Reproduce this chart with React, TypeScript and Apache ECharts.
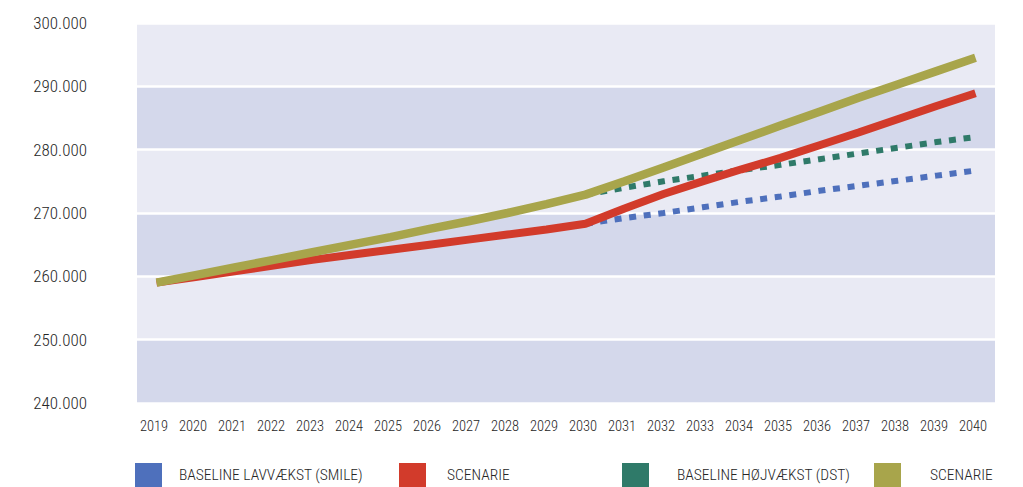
import React, { useEffect, useRef } from "react";
import * as echarts from "echarts";

const years = ["2019","2020","2021","2022","2023","2024","2025","2026","2027","2028","2029","2030","2031","2032","2033","2034","2035","2036","2037","2038","2039","2040"];

const yTicks = [240000, 250000, 260000, 270000, 280000, 290000, 300000];

// values in thousands
const baselineLav: (number | null)[] = [null,null,null,null,null,null,null,null,null,null,null,268.3,269.2,270.0,270.9,271.8,272.6,273.5,274.3,275.1,275.9,276.7];
const scenarieLav: (number | null)[] = [259.0,259.9,260.8,261.7,262.6,263.4,264.2,265.0,265.8,266.6,267.4,268.3,270.7,273.0,275.0,276.9,278.7,280.7,282.7,284.8,286.9,288.9];
const baselineHoj: (number | null)[] = [null,null,null,null,null,null,null,null,null,null,null,272.9,274.0,275.0,275.9,276.8,277.6,278.5,279.4,280.3,281.2,282.0];
const scenarieHoj: (number | null)[] = [259.0,260.2,261.4,262.6,263.8,265.0,266.2,267.5,268.7,270.0,271.4,272.9,275.0,277.2,279.4,281.6,283.8,286.0,288.2,290.3,292.4,294.5];

const names = ["BASELINE LAVVÆKST (SMILE)", "SCENARIE", "BASELINE HØJVÆKST (DST)", "SCENARIE"];
const seriesIds = ["lav-base", "lav-scen", "hoj-base", "hoj-scen"];
const colors = ["#4e70bc", "#d23b2b", "#2f7a69", "#a8a54b"];

const toAbs = (arr: (number | null)[]) => arr.map((v) => (v == null ? null : Math.round(v * 1000)));

const FONT = "'Roboto Condensed', 'Liberation Sans', sans-serif";
const WEIGHT = 300;
const TEXT = "#262626";

export default function App() {
  const ref = useRef<HTMLDivElement>(null);
  useEffect(() => {
    if (!ref.current) return;
    const chart = echarts.init(ref.current, undefined, { renderer: "svg" });
    const uniq = names.map((n, i) => `${n}#${i}`);
    const legendLefts = [130, 394, 617, 869];
    const legendPads = [12, 16, 23, 24];
    chart.setOption({
      animation: false,
      backgroundColor: "#ffffff",
      grid: { left: 137, right: 28, top: 23, bottom: 84, containLabel: false },
      legend: uniq.map((u, i) => ({
        data: [u],
        left: legendLefts[i],
        top: 458,
        icon: "rect",
        itemWidth: 27,
        itemHeight: 24,
        selectedMode: false,
        itemStyle: { borderWidth: 0 },
        formatter: (n: string) => n.split("#")[0],
        textStyle: { fontFamily: FONT, fontWeight: WEIGHT, fontSize: 15.5, color: TEXT, padding: [0, 0, 0, legendPads[i]] },
      })),
      xAxis: {
        type: "category",
        data: years,
        boundaryGap: true,
        axisLine: { show: false },
        axisTick: { show: false },
        axisLabel: { interval: 0, margin: 16, fontFamily: FONT, fontWeight: WEIGHT, fontSize: 14.5, color: TEXT, padding: [0, 5, 0, 0] },
        splitLine: { show: false },
      },
      yAxis: {
        type: "value",
        min: yTicks[0],
        max: yTicks[yTicks.length - 1],
        interval: yTicks[1] - yTicks[0],
        axisLine: { show: false },
        axisTick: { show: false },
        axisLabel: {
          margin: 50,
          fontFamily: FONT,
          fontWeight: WEIGHT,
          fontSize: 17,
          color: TEXT,
          padding: [0, 0, 8, 0],
          formatter: (v: number) => `${Math.round(v / 1000)}.000`,
        },
        splitLine: { show: true, lineStyle: { color: "#ffffff", width: 2.5 } },
        splitArea: { show: true, areaStyle: { color: ["#d4d8eb", "#e9eaf4"] } },
      },
      series: [
        {
          id: seriesIds[0], name: uniq[0], type: "line", data: toAbs(baselineLav), symbol: "none",
          color: colors[0], itemStyle: { color: colors[0] },
          lineStyle: { color: colors[0], width: 6, type: [7, 7.7], cap: "butt" }, z: 2,
        },
        {
          id: seriesIds[2], name: uniq[2], type: "line", data: toAbs(baselineHoj), symbol: "none",
          color: colors[2], itemStyle: { color: colors[2] },
          lineStyle: { color: colors[2], width: 6, type: [7, 7.7], cap: "butt" }, z: 3,
        },
        {
          id: seriesIds[1], name: uniq[1], type: "line", data: toAbs(scenarieLav), symbol: "none",
          color: colors[1], itemStyle: { color: colors[1] },
          lineStyle: { color: colors[1], width: 8 }, z: 4,
        },
        {
          id: seriesIds[3], name: uniq[3], type: "line", data: toAbs(scenarieHoj), symbol: "none",
          color: colors[3], itemStyle: { color: colors[3] },
          lineStyle: { color: colors[3], width: 8.5 }, z: 5,
        },
      ],
    });
    return () => chart.dispose();
  }, []);
  return <div ref={ref} style={{ width: 1023, height: 487, position: "absolute", left: 0, top: 0 }} />;
}
